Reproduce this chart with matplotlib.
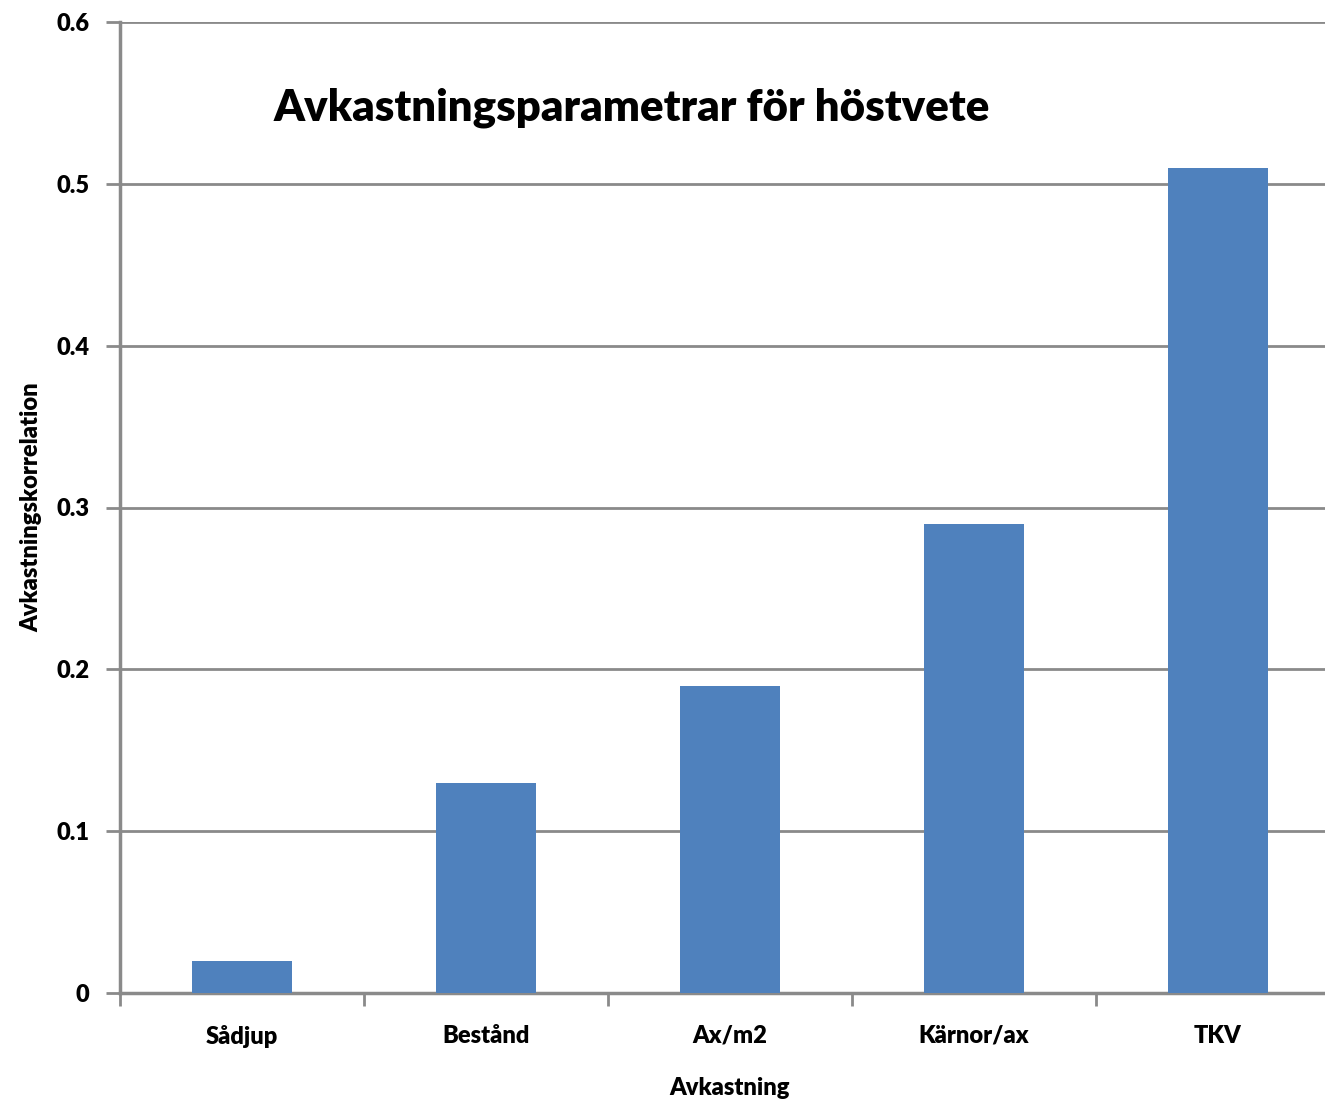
import matplotlib.pyplot as plt
import numpy as np

# data
categories = ['Sådjup', 'Bestånd', 'Ax/m2', 'Kärnor/ax', 'TKV']
values = [0.02, 0.13, 0.19, 0.29, 0.51]
yticks = [0, 0.1, 0.2, 0.3, 0.4, 0.5, 0.6]
ytick_labels = ['0', '0.1', '0.2', '0.3', '0.4', '0.5', '0.6']

plt.rcParams['font.family'] = ['Lato', 'DejaVu Sans']
W = 'heavy'

fig = plt.figure(figsize=(13.25, 11.06), dpi=100)
# plot area runs a bit past the right edge of the picture, like the original
ax = fig.add_axes([120 / 1325, 1 - 993 / 1106, 1220 / 1325, 971 / 1106])

x = np.arange(len(categories))
ax.bar(x, values, width=0.41, color='#4F81BD', zorder=3)

ax.set_xlim(-0.5, len(categories) - 0.5)
ax.set_ylim(0, 0.6)
ax.set_yticks(yticks)
ax.set_yticklabels(ytick_labels, fontsize=17, fontweight=W)
ax.yaxis.grid(True, color='#8a8a8a', linewidth=2, zorder=0)

ax.set_xticks(x)
ax.set_xticklabels(categories, fontsize=17, fontweight=W)
ax.set_xticks(np.arange(len(categories) + 1) - 0.5, minor=True)
ax.tick_params(axis='x', which='major', length=0, pad=23)
ax.tick_params(axis='x', which='minor', length=9, width=2, color='#8a8a8a')
ax.tick_params(axis='y', length=10, width=2, color='#8a8a8a', pad=12)

for side in ['top', 'right']:
    ax.spines[side].set_visible(False)
for side in ['left', 'bottom']:
    ax.spines[side].set_color('#8a8a8a')
    ax.spines[side].set_linewidth(2.5)

ax.set_xlabel('Avkastning', fontsize=17, fontweight=W, labelpad=21)
ax.set_ylabel('Avkastningskorrelation', fontsize=17, fontweight=W, labelpad=10)

fig.text(632 / 1325, 1 - 108 / 1106, 'Avkastningsparametrar för höstvete',
         fontsize=31.5, fontweight=W, ha='center', va='center')

fig.savefig('out.png', dpi=100)
